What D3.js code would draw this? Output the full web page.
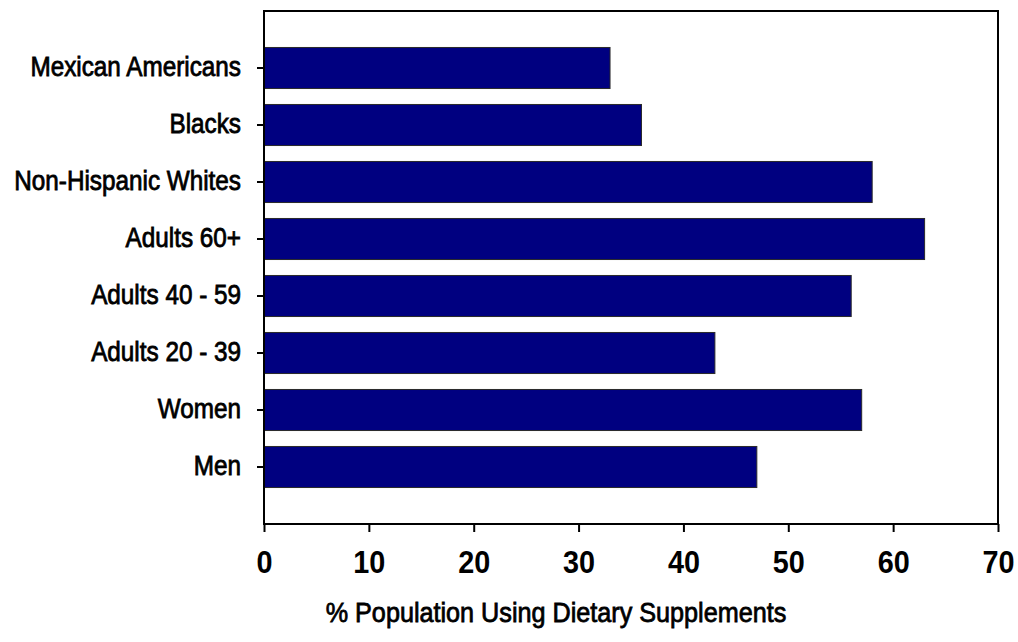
<!doctype html>
<html>
  <head>
    <title>% Population Using Dietary Supplements</title>
    <style>
      body { margin: 0; background: #fff; }
      text { font-family: "Liberation Sans", Arial, sans-serif; fill: #000; }
    </style>
  </head>
  <body>
    <div id="content"></div>
    <script src="https://d3js.org/d3.v7.min.js"></script>
    <script>
      const categories = ['Mexican Americans', 'Blacks', 'Non-Hispanic Whites', 'Adults 60+',
        'Adults 40 - 59', 'Adults 20 - 39', 'Women', 'Men'];
      const values = [33, 36, 58, 63, 56, 43, 57, 47];
      const xTicks = [0, 10, 20, 30, 40, 50, 60, 70];
      const xTitle = '% Population Using Dietary Supplements';

      const width = 1018;
      const height = 642;
      const plot = { left: 264, right: 998, top: 11, bottom: 524 };
      const squeeze = 0.9; // the original text is a bit narrow

      const svg = d3.select('#content')
        .append('svg')
        .attr('width', width)
        .attr('height', height);

      const x = d3.scaleLinear()
        .domain([0, 70])
        .range([plot.left, plot.right]);

      const y = d3.scaleBand()
        .domain(categories)
        .range([plot.top, plot.bottom])
        .paddingInner(0.28)
        .paddingOuter(0.64);

      // bars
      svg.append('g')
        .selectAll('rect')
        .data(categories)
        .join('rect')
        .attr('x', x(0))
        .attr('y', d => y(d))
        .attr('width', (d, i) => x(values[i]) - x(0))
        .attr('height', y.bandwidth())
        .attr('fill', '#000080')
        .attr('stroke', '#2a2a2a')
        .attr('stroke-width', 1);

      // frame
      svg.append('rect')
        .attr('x', plot.left)
        .attr('y', plot.top)
        .attr('width', plot.right - plot.left)
        .attr('height', plot.bottom - plot.top)
        .attr('fill', 'none')
        .attr('stroke', '#000')
        .attr('stroke-width', 2);

      // x axis
      const xAxis = svg.append('g')
        .attr('transform', `translate(0,${plot.bottom})`)
        .call(d3.axisBottom(x).tickValues(xTicks).tickSize(8).tickSizeOuter(0));
      xAxis.select('.domain').remove();
      xAxis.selectAll('.tick line').attr('stroke', '#000').attr('stroke-width', 2);
      xAxis.selectAll('.tick text')
        .attr('y', 49)
        .attr('dy', 0)
        .attr('transform', `scale(${squeeze},1)`)
        .style('font-family', '"Liberation Sans", Arial, sans-serif')
        .style('font-size', '32px')
        .style('font-weight', 'bold')
        .style('fill', '#000');

      // y axis ticks + labels
      const yAxis = svg.append('g')
        .attr('transform', `translate(${plot.left},0)`)
        .call(d3.axisLeft(y).tickSize(7).tickSizeOuter(0).tickFormat(''));
      yAxis.select('.domain').remove();
      yAxis.selectAll('.tick line').attr('stroke', '#000').attr('stroke-width', 2);

      svg.append('g')
        .selectAll('g')
        .data(categories)
        .join('g')
        .attr('transform', d => `translate(241,${y(d) + y.bandwidth() / 2 + 7.5}) scale(${squeeze},1)`)
        .append('text')
        .attr('text-anchor', 'end')
        .style('font-size', '27px')
        .attr('stroke', '#000')
        .attr('stroke-width', 0.8)
        .text(d => d);

      // axis title
      svg.append('g')
        .attr('transform', `translate(556,622) scale(${squeeze},1)`)
        .append('text')
        .attr('text-anchor', 'middle')
        .style('font-size', '28px')
        .attr('stroke', '#000')
        .attr('stroke-width', 0.8)
        .text(xTitle);
    </script>
  </body>
</html>
